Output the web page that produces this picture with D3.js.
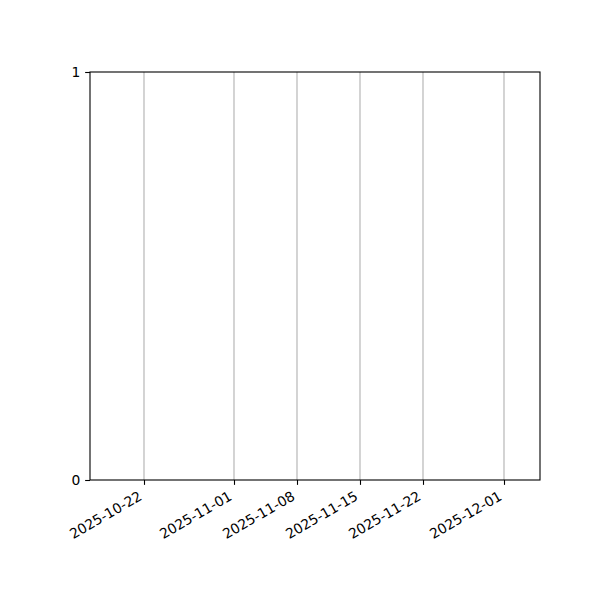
<!DOCTYPE html>
<html>
<head>
<meta charset="utf-8">
<script src="https://cdn.jsdelivr.net/npm/d3@7"></script>
<style>
  body { margin: 0; background: #fff; }
  text { font-family: "DejaVu Sans", sans-serif; font-size: 13.89px; fill: #000; }
</style>
</head>
<body>
<svg id="chart" width="600" height="600"></svg>
<script>
// empty chart: only the date axis and 0..1 y axis
const dateRange = ["2025-10-16", "2025-12-05"];
const dateTicks = ["2025-10-22", "2025-11-01", "2025-11-08", "2025-11-15", "2025-11-22", "2025-12-01"];
const yTicks = [0, 1];

const margin = { top: 72, right: 60, bottom: 120, left: 90 };
const width = 600 - margin.left - margin.right;
const height = 600 - margin.top - margin.bottom;

const parse = d3.utcParse("%Y-%m-%d");
const fmt = d3.utcFormat("%Y-%m-%d");

const svg = d3.select("#chart");
const g = svg.append("g").attr("transform", `translate(${margin.left},${margin.top})`);

const x = d3.scaleUtc().domain(dateRange.map(parse)).range([0, width]);
const y = d3.scaleLinear().domain([0, 1]).range([height, 0]);

// grid
g.append("g")
    .selectAll("line")
    .data(dateTicks.map(parse))
    .enter()
    .append("line")
    .attr("x1", d => x(d))
    .attr("x2", d => x(d))
    .attr("y1", 0)
    .attr("y2", height)
    .attr("stroke", "#b0b0b0")
    .attr("stroke-width", 1.1);

// x axis
const xAxis = g.append("g")
    .attr("transform", `translate(0,${height})`)
    .call(d3.axisBottom(x).tickValues(dateTicks.map(parse)).tickFormat(fmt).tickSize(4.86).tickPadding(0));
xAxis.select(".domain").remove();
xAxis.selectAll(".tick line").attr("stroke", "#000").attr("stroke-width", 1.1);
xAxis.selectAll(".tick text")
    .attr("y", 0)
    .attr("dy", null)
    .attr("text-anchor", "end")
    .attr("transform", "translate(-1.5,19) rotate(-30)")
    .style("font-family", "DejaVu Sans, sans-serif")
    .style("font-size", "13.89px");

// y axis
const yAxis = g.append("g")
    .call(d3.axisLeft(y).tickValues(yTicks).tickFormat(d3.format("d")).tickSize(4.86).tickPadding(4.86));
yAxis.select(".domain").remove();
yAxis.selectAll(".tick line").attr("stroke", "#000").attr("stroke-width", 1.1);
yAxis.selectAll(".tick text")
    .attr("dy", "0.35em")
    .style("font-family", "DejaVu Sans, sans-serif")
    .style("font-size", "13.89px");

// frame
g.append("rect")
    .attr("x", 0)
    .attr("y", 0)
    .attr("width", width)
    .attr("height", height)
    .attr("fill", "none")
    .attr("stroke", "#000")
    .attr("stroke-width", 1.1);
</script>
</body>
</html>
